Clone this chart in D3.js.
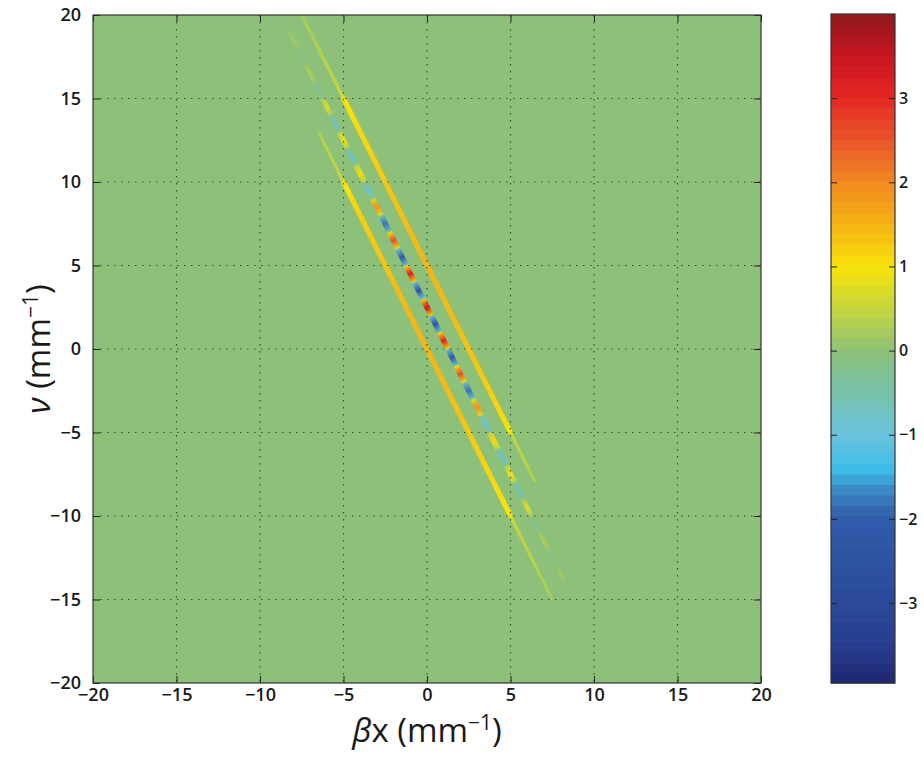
<!DOCTYPE html>
<html>
<head>
<meta charset="utf-8">
<script src="https://cdnjs.cloudflare.com/ajax/libs/d3/7.8.5/d3.min.js"></script>
<style>
  html, body { margin: 0; padding: 0; background: #fff; }
  svg { display: block; }
  text { font-family: "Open Sans", "DejaVu Sans", sans-serif; fill: #1a1a1a; }
</style>
</head>
<body>
<div id="chart"></div>
<script>
// Axis ticks
const xTicks = [-20, -15, -10, -5, 0, 5, 10, 15, 20];
const yTicks = [-20, -15, -10, -5, 0, 5, 10, 15, 20];
const cbarTicks = [-3, -2, -1, 0, 1, 2, 3];
const cbarRange = [-3.95, 4.0];

// colour map as printed in the colour bar (value -> colour)
const cmapValues = [-3.95, -3.5, -3, -2.5, -2, -1.7, -1.4, -1, -0.5, 0, 0.5, 1, 1.5, 2, 2.5, 3, 3.5, 4.0];
const cmapColors = ["#1d2670", "#283d8e", "#2c4898", "#2e52a2", "#2f5caa", "#3a80c0", "#3ebde8", "#68c3dc",
                    "#78c1ac", "#8dc179", "#c6d63c", "#f7e30a", "#f6b415", "#f08a1f", "#e9562a", "#e52824",
                    "#c9141f", "#8b1a1e"];

// lower outer ridge: [βx, ν, value]
const ridgeA = [
  [-6.5, 13, 0.3], [-5.1, 10.2, 0.5], [-5.0, 10, 1.0], [-4.0, 8, 1.2], [-2.0, 4, 1.4],
  [0, 0, 1.5], [2.0, -4, 1.35], [4.0, -8, 1.1], [5.0, -10, 1.0], [5.1, -10.2, 0.5],
  [6.5, -13, 0.35], [7.5, -15, 0.25]
];

// upper outer ridge: [βx, ν, value]
const ridgeB = [
  [-7.5, 20, 0.25], [-6.5, 18, 0.35], [-5.1, 15.2, 0.5], [-5.0, 15, 1.0], [-4.0, 13, 1.1],
  [-2.0, 9, 1.35], [0, 5, 1.5], [2.0, 1, 1.4], [4.0, -3, 1.2], [5.0, -5, 1.0],
  [5.1, -5.2, 0.5], [6.5, -8, 0.3]
];

// oscillating centre ridge: [βx, ν, value]
const ridgeC = [
  [-8.0, 18.5, 0.2], [-7.5, 17.5, -0.2], [-7.0, 16.5, 0.35], [-6.5, 15.5, -0.35],
  [-6.0, 14.5, 0.7], [-5.5, 13.5, -0.7], [-5.0, 12.5, 0.9], [-4.5, 11.5, -0.8],
  [-4.0, 10.5, 1.1], [-3.5, 9.5, -0.9], [-3.0, 8.5, 1.9], [-2.5, 7.5, -1.8],
  [-2.0, 6.5, 2.6], [-1.5, 5.5, -2.2], [-1.0, 4.5, 3.2], [-0.5, 3.5, -2.5],
  [0.0, 2.5, 3.4], [0.5, 1.5, -2.5], [1.0, 0.5, 3.2], [1.5, -0.5, -2.2],
  [2.0, -1.5, 2.6], [2.5, -2.5, -1.8], [3.0, -3.5, 1.9], [3.5, -4.5, -0.9],
  [4.0, -5.5, 1.1], [4.5, -6.5, -0.8], [5.0, -7.5, 0.9], [5.5, -8.5, -0.7],
  [6.0, -9.5, 0.7], [6.5, -10.5, -0.35], [7.0, -11.5, 0.35], [7.5, -12.5, -0.2],
  [8.0, -13.5, 0.2]
];

(function() {
  const margin = {top: 15, left: 93},
      width = 668,
      height = 668;

  const fmt = d => d < 0 ? "\u2212" + Math.abs(d) : String(d);

  const cmap = d3.scaleLinear()
      .domain(cmapValues)
      .range(cmapColors)
      .interpolate(d3.interpolateRgb)
      .clamp(true);

  const svg = d3.select("#chart")
      .append("svg")
      .attr("width", 924)
      .attr("height", 758);

  const defs = svg.append("defs");
  defs.append("clipPath").attr("id", "plotclip")
      .append("rect").attr("width", width).attr("height", height);

  let gid = 0;
  function gradient(x1, y1, x2, y2, stops) {
      const id = "grad" + (gid++);
      const g = defs.append("linearGradient")
          .attr("id", id)
          .attr("gradientUnits", "userSpaceOnUse")
          .attr("x1", x1).attr("y1", y1).attr("x2", x2).attr("y2", y2);
      stops.forEach(s => g.append("stop").attr("offset", s[0]).attr("stop-color", s[1]));
      return `url(#${id})`;
  }

  const plot = svg.append("g")
      .attr("transform", `translate(${margin.left},${margin.top})`);

  const x = d3.scaleLinear().domain([-20, 20]).range([0, width]);
  const y = d3.scaleLinear().domain([-20, 20]).range([height, 0]);

  // background (value 0)
  plot.append("rect")
      .attr("width", width)
      .attr("height", height)
      .attr("fill", cmap(0));

  const marks = plot.append("g").attr("clip-path", "url(#plotclip)");

  const widthFor = v => 2.3 + 2.8 * Math.min(1, Math.abs(v));

  // outer ridges, one gradient segment between each pair of points
  function drawRidge(pts) {
      for (let i = 0; i < pts.length - 1; i++) {
          const a = pts[i], b = pts[i + 1];
          const x1 = x(a[0]), y1 = y(a[1]), x2 = x(b[0]), y2 = y(b[1]);
          marks.append("line")
              .attr("x1", x1).attr("y1", y1)
              .attr("x2", x2).attr("y2", y2)
              .attr("stroke", gradient(x1, y1, x2, y2, [[0, cmap(a[2])], [1, cmap(b[2])]]))
              .attr("stroke-width", widthFor(Math.min(Math.abs(a[2]), Math.abs(b[2]))));
      }
  }
  drawRidge(ridgeA);
  drawRidge(ridgeB);

  // centre ridge: one dash per sample
  ridgeC.forEach((p, i) => {
      const prev = ridgeC[i - 1], next = ridgeC[i + 1];
      const pb = prev ? prev : [2 * p[0] - next[0], 2 * p[1] - next[1]];
      const nb = next ? next : [2 * p[0] - prev[0], 2 * p[1] - prev[1]];
      const x1 = x((pb[0] + p[0]) / 2), y1 = y((pb[1] + p[1]) / 2);
      const x2 = x((nb[0] + p[0]) / 2), y2 = y((nb[1] + p[1]) / 2);
      marks.append("line")
          .attr("x1", x1).attr("y1", y1)
          .attr("x2", x2).attr("y2", y2)
          .attr("stroke", gradient(x1, y1, x2, y2,
              [[0, cmap(p[2] * 0.35)], [0.5, cmap(p[2])], [1, cmap(p[2] * 0.35)]]))
          .attr("stroke-width", widthFor(p[2]) + 0.5);
  });

  // dotted grid
  const grid = plot.append("g")
      .attr("stroke", "#2e3a2c")
      .attr("stroke-width", 1.2)
      .attr("stroke-dasharray", "1.5,5.5")
      .attr("opacity", 0.85);
  xTicks.slice(1, -1).forEach(t => {
      grid.append("line").attr("x1", x(t)).attr("x2", x(t)).attr("y1", 0).attr("y2", height);
  });
  yTicks.slice(1, -1).forEach(t => {
      grid.append("line").attr("y1", y(t)).attr("y2", y(t)).attr("x1", 0).attr("x2", width);
  });

  // axes, ticks pointing inward on all four sides
  const axisStyle = g => {
      g.select(".domain").remove();
      g.selectAll(".tick line").attr("stroke", "#222");
      g.selectAll(".tick text")
          .attr("font-size", 18)
          .attr("font-weight", 600)
          .attr("fill", "#1a1a1a");
  };

  plot.append("g")
      .attr("transform", `translate(0,${height})`)
      .call(d3.axisBottom(x).tickValues(xTicks).tickFormat(fmt).tickSize(-7).tickPadding(5))
      .call(axisStyle);

  plot.append("g")
      .call(d3.axisLeft(y).tickValues(yTicks).tickFormat(fmt).tickSize(-7).tickPadding(12))
      .call(axisStyle);

  plot.append("g")
      .call(d3.axisTop(x).tickValues(xTicks).tickFormat("").tickSize(-7))
      .call(axisStyle);

  plot.append("g")
      .attr("transform", `translate(${width},0)`)
      .call(d3.axisRight(y).tickValues(yTicks).tickFormat("").tickSize(-7))
      .call(axisStyle);

  plot.append("rect")
      .attr("width", width)
      .attr("height", height)
      .attr("fill", "none")
      .attr("stroke", "#333")
      .attr("stroke-width", 1.2);

  // axis titles
  const xt = svg.append("text")
      .attr("x", margin.left + width / 2)
      .attr("y", 742)
      .attr("text-anchor", "middle")
      .attr("font-size", 33);
  xt.append("tspan").attr("font-style", "italic").text("\u03B2");
  xt.append("tspan").text("x (mm");
  xt.append("tspan").attr("font-size", 21).attr("dy", -12).text("\u22121");
  xt.append("tspan").attr("dy", 12).text(")");

  const yt = svg.append("text")
      .attr("transform", `translate(50,${margin.top + height / 2}) rotate(-90)`)
      .attr("text-anchor", "middle")
      .attr("font-size", 33);
  yt.append("tspan").attr("font-style", "italic").text("\u03BD");
  yt.append("tspan").text(" (mm");
  yt.append("tspan").attr("font-size", 21).attr("dy", -12).text("\u22121");
  yt.append("tspan").attr("dy", 12).text(")");

  // colour bar
  const cbW = 64, cbH = 669;
  const cb = svg.append("g").attr("transform", "translate(831,14)");
  const cy = d3.scaleLinear().domain(cbarRange).range([cbH, 0]);
  const nLevels = 64;
  const step = (cbarRange[1] - cbarRange[0]) / nLevels;
  cb.selectAll("rect.level")
      .data(d3.range(nLevels))
      .enter()
      .append("rect")
      .attr("class", "level")
      .attr("x", 0)
      .attr("width", cbW)
      .attr("y", i => cy(cbarRange[0] + (i + 1) * step))
      .attr("height", cbH / nLevels + 0.6)
      .attr("fill", i => cmap(cbarRange[0] + (i + 0.5) * step));

  cb.append("rect")
      .attr("width", cbW)
      .attr("height", cbH)
      .attr("fill", "none")
      .attr("stroke", "#333")
      .attr("stroke-width", 1.2);

  cb.append("g")
      .call(d3.axisLeft(cy).tickValues(cbarTicks).tickFormat("").tickSize(-6))
      .call(axisStyle);

  cb.append("g")
      .attr("transform", `translate(${cbW},0)`)
      .call(d3.axisRight(cy).tickValues(cbarTicks).tickFormat(fmt).tickSize(-6).tickPadding(4))
      .call(g => {
          axisStyle(g);
          g.selectAll(".tick text").attr("font-size", 16);
      });
})();
</script>
</body>
</html>
